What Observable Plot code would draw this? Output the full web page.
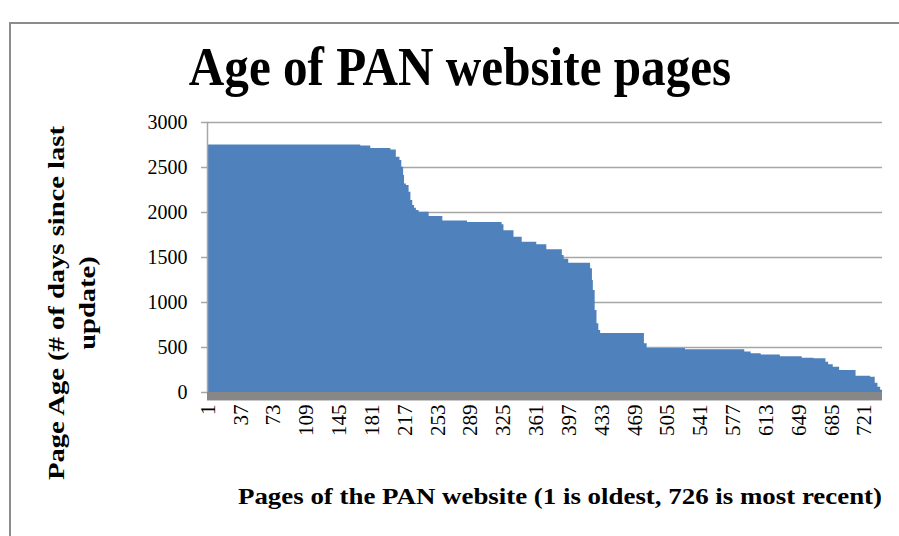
<!DOCTYPE html>
<html>
<head>
<meta charset="utf-8">
<script src="https://cdn.jsdelivr.net/npm/d3@7"></script>
<script src="https://cdn.jsdelivr.net/npm/@observablehq/plot@0.6"></script>
<style>
  html, body { margin: 0; padding: 0; background: #fff; }
  #wrap { position: relative; width: 899px; height: 536px; overflow: hidden; background: #fff; }
  #border { position: absolute; left: 9px; top: 22px; width: 900px; height: 600px; border: 2px solid #8c8c8c; box-sizing: border-box; }
  #title { position: absolute; left: 460px; top: 40px; transform: translateX(-50%) scaleX(0.91); white-space: nowrap; line-height: 54px; font-family: "Liberation Serif", serif; font-weight: bold; font-size: 54px; color: #000; }
  #ytitle { position: absolute; left: 72px; top: 303px; transform: translate(-50%, -50%) rotate(-90deg) scaleX(1.19); text-align: center; white-space: nowrap; font-family: "Liberation Serif", serif; font-weight: bold; font-size: 24px; line-height: 31px; color: #000; }
  #xtitle { position: absolute; left: 238px; top: 483px; transform-origin: 0 50%; transform: scaleX(1.12); white-space: nowrap; font-family: "Liberation Serif", serif; font-weight: bold; font-size: 24px; color: #000; }
  #floor { position: absolute; left: 207px; top: 392px; width: 675px; height: 8px; background: #878787; border-bottom: 1px solid #c8c8c8; }
  #chart { position: absolute; left: 0; top: 0; }
</style>
</head>
<body>
<div id="wrap">
  <div id="border"></div>
  <div id="chart"></div>
  <div id="floor"></div>
  <div id="title">Age of PAN website pages</div>
  <div id="ytitle">Page Age (# of days since last<br>update)</div>
  <div id="xtitle">Pages of the PAN website (1 is oldest, 726 is most recent)</div>
</div>
<script>
// First page of each run of equal page age
const runStartPage = [1, 169, 180, 202, 208, 212, 214, 216, 217, 219, 222, 224, 226, 228, 230, 233, 244, 259, 286, 324, 326, 337, 346, 362, 373, 390, 392, 397, 421, 423, 424, 426, 428, 430, 432, 480, 483, 525, 590, 597, 608, 629, 653, 666, 679, 682, 687, 694, 712, 728, 733, 736, 739];
// Page age (days since last update) for each run
const runAgeDays = [2750, 2738, 2710, 2694, 2615, 2578, 2504, 2411, 2318, 2300, 2226, 2133, 2078, 2048, 2022, 2003, 1955, 1905, 1889, 1863, 1796, 1726, 1670, 1642, 1585, 1522, 1480, 1437, 1374, 1244, 1133, 911, 763, 689, 655, 541, 490, 476, 450, 430, 417, 398, 381, 374, 337, 307, 281, 244, 181, 170, 104, 59, 25];
const lastPage = 740;
// Category tick labels
const xTickPages = [1, 37, 73, 109, 145, 181, 217, 253, 289, 325, 361, 397, 433, 469, 505, 541, 577, 613, 649, 685, 721];
const yTicks = [0, 500, 1000, 1500, 2000, 2500, 3000];

const steps = runStartPage.map((p, i) => ({page: p - 0.5, age: runAgeDays[i]}));
steps.push({page: lastPage + 0.5, age: runAgeDays[runAgeDays.length - 1]});

const chart = Plot.plot({
  width: 899,
  height: 536,
  marginLeft: 207,
  marginRight: 17,
  marginTop: 122,
  marginBottom: 144,
  style: {fontFamily: "Liberation Serif, serif", fontSize: "18px", color: "#000", background: "transparent"},
  x: {type: "linear", domain: [0.5, lastPage + 0.5]},
  y: {domain: [0, 3000]},
  marks: [
    Plot.gridY(yTicks, {stroke: "#a6a6a6", strokeOpacity: 1, strokeWidth: 1.5}),
    Plot.areaY(steps, {x: "page", y: "age", curve: "step-after", fill: "#4f81bd"}),
    Plot.frame({anchor: "left", stroke: "#a6a6a6", strokeWidth: 1.5}),
    Plot.axisY(yTicks, {tickSize: 6, tickPadding: 14, stroke: "#a6a6a6", strokeWidth: 1.5, fontSize: 20, label: null, tickFormat: d => String(d)}),
    Plot.axisX(xTickPages, {tickSize: 0, tickPadding: 12, tickRotate: -90, fontSize: 21, label: null, tickFormat: d => String(d)})
  ]
});
document.getElementById("chart").appendChild(chart);
</script>
</body>
</html>
